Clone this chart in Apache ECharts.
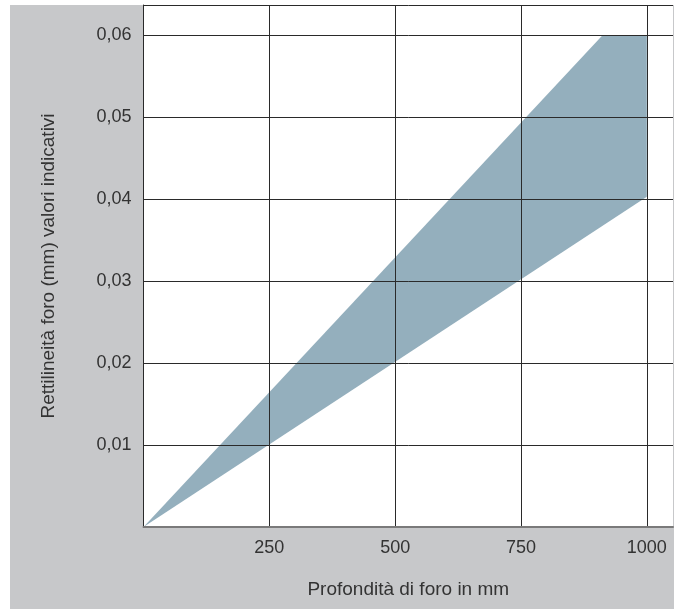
<!DOCTYPE html>
<html>
<head>
<meta charset="utf-8">
<script src="https://cdn.jsdelivr.net/npm/echarts@6/dist/echarts.min.js"></script>
<style>html,body{margin:0;padding:0;background:#fff}#c{width:681px;height:609px}</style>
</head>
<body>
<div id="c"></div>
<script>
// Data
var upperX = [0, 912, 1000];
var upperY = [0, 0.06, 0.06];
var lowerX = [0, 1000];
var lowerY = [0, 0.0403];
var xTicks = [250, 500, 750, 1000];
var yTicks = [0.01, 0.02, 0.03, 0.04, 0.05, 0.06];
var xTitle = 'Profondità di foro in mm';
var yTitle = 'Rettilineità foro (mm) valori indicativi';

var chart = echarts.init(document.getElementById('c'), null, {renderer: 'canvas'});
var font = 'Liberation Sans, Arial, Helvetica, sans-serif';

function near(v, list) {
  for (var i = 0; i < list.length; i++) if (Math.abs(v - list[i]) < 1e-9) return true;
  return false;
}

var polyData = [];
for (var i = 0; i < upperX.length; i++) polyData.push([upperX[i], upperY[i]]);
for (var j = lowerX.length - 1; j >= 0; j--) polyData.push([lowerX[j], lowerY[j]]);

chart.setOption({
  animation: false,
  backgroundColor: '#ffffff',
  graphic: [{
    type: 'rect', z: -100,
    shape: {x: 10, y: 5, width: 664, height: 604},
    style: {fill: '#c7c8ca'}
  }],
  grid: {
    left: 143.5, right: 8, top: 5, bottom: 82,
    show: true, backgroundColor: '#ffffff', borderWidth: 0
  },
  xAxis: {
    type: 'value', min: 0, max: 1052, interval: 250, z: 5,
    name: xTitle, nameLocation: 'middle', nameGap: 53,
    nameTextStyle: {fontFamily: font, fontSize: 19, color: '#333'},
    axisLine: {show: true, onZero: false, lineStyle: {color: '#7a7a7a', width: 2}},
    axisTick: {show: false},
    axisLabel: {
      margin: 12, fontFamily: font, fontSize: 18, color: '#333',
      formatter: function (v) { return near(v, xTicks) ? String(v) : ''; }
    },
    splitLine: {show: true, showMinLine: false, showMaxLine: false, lineStyle: {color: '#2a2a2a', width: 1}}
  },
  yAxis: {
    type: 'value', min: 0, max: 0.0637, interval: 0.01, z: 5,
    name: yTitle, nameLocation: 'middle', nameGap: 85, nameRotate: 90,
    nameTextStyle: {fontFamily: font, fontSize: 19, color: '#333'},
    axisLine: {show: true, onZero: false, lineStyle: {color: '#2a2a2a', width: 1}},
    axisTick: {show: false},
    axisLabel: {
      margin: 12, fontFamily: font, fontSize: 18, color: '#333',
      formatter: function (v) { return near(v, yTicks) ? v.toFixed(2).replace('.', ',') : ''; }
    },
    splitLine: {show: true, showMinLine: false, showMaxLine: true, lineStyle: {color: '#2a2a2a', width: 1}}
  },
  series: [{
    type: 'custom', z: 1,
    coordinateSystem: 'cartesian2d',
    data: [[0, 0]],
    renderItem: function (params, api) {
      var pts = polyData.map(function (p) { return api.coord(p); });
      return {type: 'polygon', shape: {points: pts}, style: {fill: '#94afbd'}};
    }
  }]
});
</script>
</body>
</html>
